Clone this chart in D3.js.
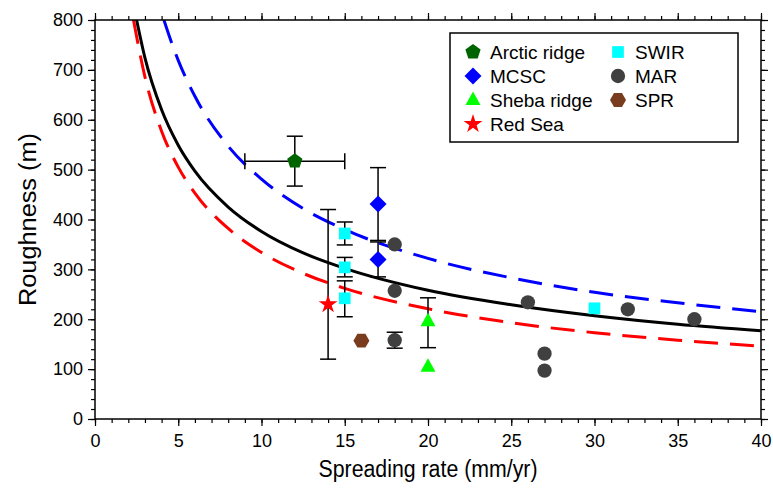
<!DOCTYPE html>
<html>
<head>
<meta charset="utf-8">
<script src="https://cdn.jsdelivr.net/npm/d3@7"></script>
<style>
  body { margin: 0; background: #fff; }
  svg { font-family: "Liberation Sans", Arial, Helvetica, sans-serif; }
</style>
</head>
<body>
<div id="container"></div>
<script>
// --- data ---
var xTicks = [0, 5, 10, 15, 20, 25, 30, 35, 40];
var yTicks = [0, 100, 200, 300, 400, 500, 600, 700, 800];

// fit curves (spreading rate, roughness)
var blackX = [2.5, 3, 4, 5, 6, 8, 10, 12.5, 15, 20, 25, 30, 35, 40];
var blackY = [800, 724, 620, 549, 497, 425, 376, 333, 302, 258, 229, 207, 190, 177];
var blueX = [4.14, 4.5, 5, 6, 8, 10, 12.5, 15, 20, 25, 30, 35, 40];
var blueY = [800, 764, 719, 647, 547, 481, 422, 380, 322, 283, 254, 233, 215];
var redX = [2.31, 3, 4, 5, 6, 8, 10, 12.5, 15, 20, 25, 30, 35, 40];
var redY = [800, 686, 577, 505, 453, 382, 334, 292, 262, 221, 193, 173, 158, 146];

// observations: x, y, y low, y high (null = no error bar)
var arcticX = [12], arcticY = [517], arcticLo = [467], arcticHi = [567];
var arcticXLo = [9], arcticXHi = [15];
var mcscX = [17, 17], mcscY = [431, 320], mcscLo = [358, 285], mcscHi = [504, 355];
var shebaX = [20, 20], shebaY = [196, 105], shebaLo = [143, null], shebaHi = [243, null];
var redSeaX = [14], redSeaY = [230], redSeaLo = [120], redSeaHi = [420];
var swirX = [15, 15, 15, 30], swirY = [372, 304, 242, 222];
var swirLo = [349, 285, 205, null], swirHi = [395, 324, 277, null];
var marX = [18, 18, 18, 26, 27, 27, 32, 36], marY = [350, 257, 158, 234, 131, 97, 220, 200];
var marLo = [null, null, 142, null, null, null, null, null];
var marHi = [null, null, 174, null, null, null, null, null];
var sprX = [16], sprY = [157];

var width = 773, height = 488;
var margin = {left: 95, right: 12, top: 20, bottom: 69};
var w = width - margin.left - margin.right;
var h = height - margin.top - margin.bottom;

var xScale = d3.scaleLinear().domain([0, 40]).range([0, w]);
var yScale = d3.scaleLinear().domain([0, 800]).range([h, 0]);

var SVG = d3.select("#container").append("svg")
  .attr("width", width).attr("height", height);
var g = SVG.append("g")
  .attr("transform", "translate(" + margin.left + "," + margin.top + ")");

function poly(n, r, rot) {
  var pts = d3.range(n).map(function(i) {
    var a = rot + i * 2 * Math.PI / n;
    return [r * Math.cos(a), r * Math.sin(a)];
  });
  return "M" + pts.join("L") + "Z";
}
var shapes = {
  pentagon: poly(5, 8, -Math.PI / 2),
  diamond: poly(4, 8.5, -Math.PI / 2),
  triangle: "M0,-8.5L7.5,5L-7.5,5Z",
  star: d3.symbol().type(d3.symbolStar).size(110)(),
  square: d3.symbol().type(d3.symbolSquare).size(137)(),
  circle: d3.symbol().type(d3.symbolCircle).size(160)(),
  hexagon: poly(6, 8, 0)
};

// axes
function drawAxis(gen, scale, ticks, tsize, fmt, tr) {
  var a = gen(scale).tickValues(ticks).tickSize(tsize).tickPadding(5);
  a.tickFormat(fmt ? d3.format("d") : "");
  var ax = g.append("g").attr("transform", tr).call(a);
  ax.select(".domain").remove();
  ax.selectAll("line").attr("stroke", "#000").attr("stroke-width", 1.2);
  ax.selectAll("text").style("font-size", "18px").attr("fill", "#000");
  return ax;
}
var xMinor = d3.range(0, 41, 1), yMinor = d3.range(0, 801, 20);
drawAxis(d3.axisBottom, xScale, xMinor, 4, false, "translate(0," + h + ")");
drawAxis(d3.axisTop, xScale, xMinor, 4, false, "translate(0,0)");
drawAxis(d3.axisLeft, yScale, yMinor, 4, false, "translate(0,0)");
drawAxis(d3.axisRight, yScale, yMinor, 4, false, "translate(" + w + ",0)");
drawAxis(d3.axisBottom, xScale, xTicks, 7, true, "translate(0," + h + ")")
  .selectAll("text").attr("dy", "0.9em");
drawAxis(d3.axisTop, xScale, xTicks, 7, false, "translate(0,0)");
drawAxis(d3.axisLeft, yScale, yTicks, 7, true, "translate(0,0)");
drawAxis(d3.axisRight, yScale, yTicks, 7, false, "translate(" + w + ",0)");

// clipping for curves
g.append("clipPath").attr("id", "clip").append("rect")
  .attr("width", w).attr("height", h);

var line = d3.line()
  .x(function(d) { return xScale(d[0]); })
  .y(function(d) { return yScale(d[1]); })
  .curve(d3.curveMonotoneX);

function curve(xs, ys, color, dash) {
  g.append("path")
    .datum(xs.map(function(x, i) { return [x, ys[i]]; }))
    .attr("clip-path", "url(#clip)")
    .attr("d", line)
    .attr("fill", "none")
    .attr("stroke", color)
    .attr("stroke-width", 3)
    .attr("stroke-dasharray", dash);
}
curve(blueX, blueY, "#0000ff", "24,12");
curve(redX, redY, "#ff0000", "24,12");
curve(blackX, blackY, "#000", null);

// error bars
var cap = 8;
function errBars(xs, lo, hi) {
  xs.forEach(function(x, i) {
    if (lo[i] == null) return;
    var px = xScale(x), y1 = yScale(lo[i]), y2 = yScale(hi[i]);
    var eb = g.append("g").attr("stroke", "#000").attr("stroke-width", 1.5);
    eb.append("line").attr("x1", px).attr("x2", px).attr("y1", y1).attr("y2", y2);
    eb.append("line").attr("x1", px - cap).attr("x2", px + cap).attr("y1", y1).attr("y2", y1);
    eb.append("line").attr("x1", px - cap).attr("x2", px + cap).attr("y1", y2).attr("y2", y2);
  });
}
errBars(arcticX, arcticLo, arcticHi);
errBars(mcscX, mcscLo, mcscHi);
errBars(shebaX, shebaLo, shebaHi);
errBars(redSeaX, redSeaLo, redSeaHi);
errBars(swirX, swirLo, swirHi);
errBars(marX, marLo, marHi);
arcticY.forEach(function(y, i) {
  var py = yScale(y), x1 = xScale(arcticXLo[i]), x2 = xScale(arcticXHi[i]);
  var eb = g.append("g").attr("stroke", "#000").attr("stroke-width", 1.5);
  eb.append("line").attr("x1", x1).attr("x2", x2).attr("y1", py).attr("y2", py);
  eb.append("line").attr("x1", x1).attr("x2", x1).attr("y1", py - cap).attr("y2", py + cap);
  eb.append("line").attr("x1", x2).attr("x2", x2).attr("y1", py - cap).attr("y2", py + cap);
});

// markers
function points(xs, ys, shape, color) {
  g.selectAll(null).data(xs).enter().append("path")
    .attr("d", shapes[shape])
    .attr("fill", color)
    .attr("transform", function(d, i) {
      return "translate(" + xScale(d) + "," + yScale(ys[i]) + ")";
    });
}
points(arcticX, arcticY, "pentagon", "#006400");
points(mcscX, mcscY, "diamond", "#0000ff");
points(shebaX, shebaY, "triangle", "#00ff00");
points(redSeaX, redSeaY, "star", "#ff0000");
points(swirX, swirY, "square", "#00ffff");
points(marX, marY, "circle", "#404040");
points(sprX, sprY, "hexagon", "#7a3c1e");

// frame
g.append("rect").attr("width", w).attr("height", h)
  .attr("fill", "none").attr("stroke", "#000").attr("stroke-width", 1.5);

// legend
var legendNames = ["Arctic ridge", "MCSC", "Sheba ridge", "Red Sea", "SWIR", "MAR", "SPR"];
var legendShapes = ["pentagon", "diamond", "triangle", "star", "square", "circle", "hexagon"];
var legendColors = ["#006400", "#0000ff", "#00ff00", "#ff0000", "#00ffff", "#404040", "#7a3c1e"];
var lg = SVG.append("g");
lg.append("rect").attr("x", 450).attr("y", 33).attr("width", 288).attr("height", 109)
  .attr("fill", "#fff").attr("stroke", "#000").attr("stroke-width", 1.5);
legendNames.forEach(function(name, i) {
  var col = i < 4 ? 0 : 1, row = i < 4 ? i : i - 4;
  var sx = col === 0 ? 473 : 618, sy = 52 + row * 24;
  lg.append("path").attr("d", shapes[legendShapes[i]]).attr("fill", legendColors[i])
    .attr("transform", "translate(" + sx + "," + sy + ")");
  lg.append("text").attr("x", sx + 17).attr("y", sy).attr("dy", "0.36em")
    .style("font-size", "19px").text(name);
});

// axis titles
SVG.append("text").attr("x", margin.left + w / 2).attr("y", 477)
  .attr("text-anchor", "middle").style("font-size", "23px")
  .attr("textLength", 219).attr("lengthAdjust", "spacingAndGlyphs")
  .text("Spreading rate (mm/yr)");
SVG.append("text").attr("transform", "rotate(-90)")
  .attr("x", -(margin.top + h / 2)).attr("y", 36)
  .attr("text-anchor", "middle").style("font-size", "23px")
  .attr("textLength", 173).attr("lengthAdjust", "spacingAndGlyphs")
  .text("Roughness (m)");
</script>
</body>
</html>
